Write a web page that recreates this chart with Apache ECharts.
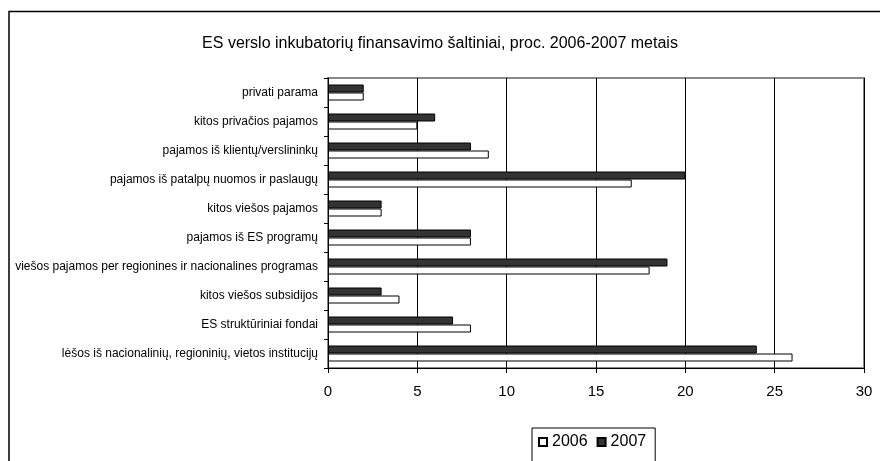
<!DOCTYPE html>
<html>
<head>
<meta charset="utf-8">
<script src="https://cdn.jsdelivr.net/npm/echarts@6/dist/echarts.min.js"></script>
<style>
	html, body { margin: 0; padding: 0; background: #fff; }
	#chart { width: 880px; height: 461px; }
</style>
</head>
<body>
<div id="chart"></div>
<script>
// kategorijos iš apačios į viršų
const categories = [
	'lėšos iš nacionalinių, regioninių, vietos institucijų',
	'ES struktūriniai fondai',
	'kitos viešos subsidijos',
	'viešos pajamos per regionines ir nacionalines programas',
	'pajamos iš ES programų',
	'kitos viešos pajamos',
	'pajamos iš patalpų nuomos ir paslaugų',
	'pajamos iš klientų/verslininkų',
	'kitos privačios pajamos',
	'privati parama'
];
const values2006 = [26, 8, 4, 18, 8, 3, 17, 9, 5, 2];
const values2007 = [24, 7, 3, 19, 8, 3, 20, 8, 6, 2];
const xTicks = [0, 30, 5]; // min, max, interval

const font = 'Liberation Sans, Arial, sans-serif';
let chart = echarts.init(document.getElementById('chart'));

chart.setOption({
	animation: false,
	textStyle: { fontFamily: font, color: '#000' },
	title: {
		text: 'ES verslo inkubatorių finansavimo šaltiniai, proc. 2006-2007 metais',
		left: 'center',
		top: 31,
		textStyle: { fontFamily: font, fontSize: 16, fontWeight: 'normal', color: '#000' }
	},
	graphic: [
		{
			type: 'rect',
			shape: { x: 9, y: 11.5, width: 900, height: 470 },
			style: { fill: 'none', stroke: '#000', lineWidth: 1.5 },
			silent: true
		}
	],
	legend: {
		left: 532,
		top: 428,
		padding: [6, 9, 14, 6],
		borderColor: '#000',
		borderWidth: 1,
		itemGap: 9,
		itemWidth: 8,
		itemHeight: 8,
		icon: 'rect',
		textStyle: { fontFamily: font, fontSize: 16, color: '#000' },
		data: ['2006', '2007']
	},
	grid: {
		left: 328,
		right: 16,
		top: 78,
		bottom: 93,
		outerBoundsMode: 'none',
		containLabel: false,
		show: true,
		borderColor: '#888',
		borderWidth: 2
	},
	xAxis: {
		type: 'value',
		min: xTicks[0],
		max: xTicks[1],
		interval: xTicks[2],
		axisLine: { show: true, lineStyle: { color: '#000' } },
		axisTick: { show: true, length: 5, lineStyle: { color: '#000' } },
		axisLabel: { fontSize: 15, color: '#000', margin: 16, fontFamily: font },
		splitLine: { show: true, lineStyle: { color: '#000', width: 1 } }
	},
	yAxis: {
		type: 'category',
		data: categories,
		axisLine: { show: true, lineStyle: { color: '#000' } },
		axisTick: { show: true, length: 4, lineStyle: { color: '#000' } },
		axisLabel: { fontSize: 12, color: '#000', margin: 10, fontFamily: font }
	},
	series: [
		{
			name: '2007',
			type: 'bar',
			data: values2007,
			barWidth: 8,
			barGap: '0%',
			itemStyle: { color: '#333', borderColor: '#000', borderWidth: 1 }
		},
		{
			name: '2006',
			type: 'bar',
			data: values2006,
			barWidth: 8,
			barGap: '0%',
			itemStyle: { color: '#fff', borderColor: '#000', borderWidth: 1 }
		}
	]
});
</script>
</body>
</html>
